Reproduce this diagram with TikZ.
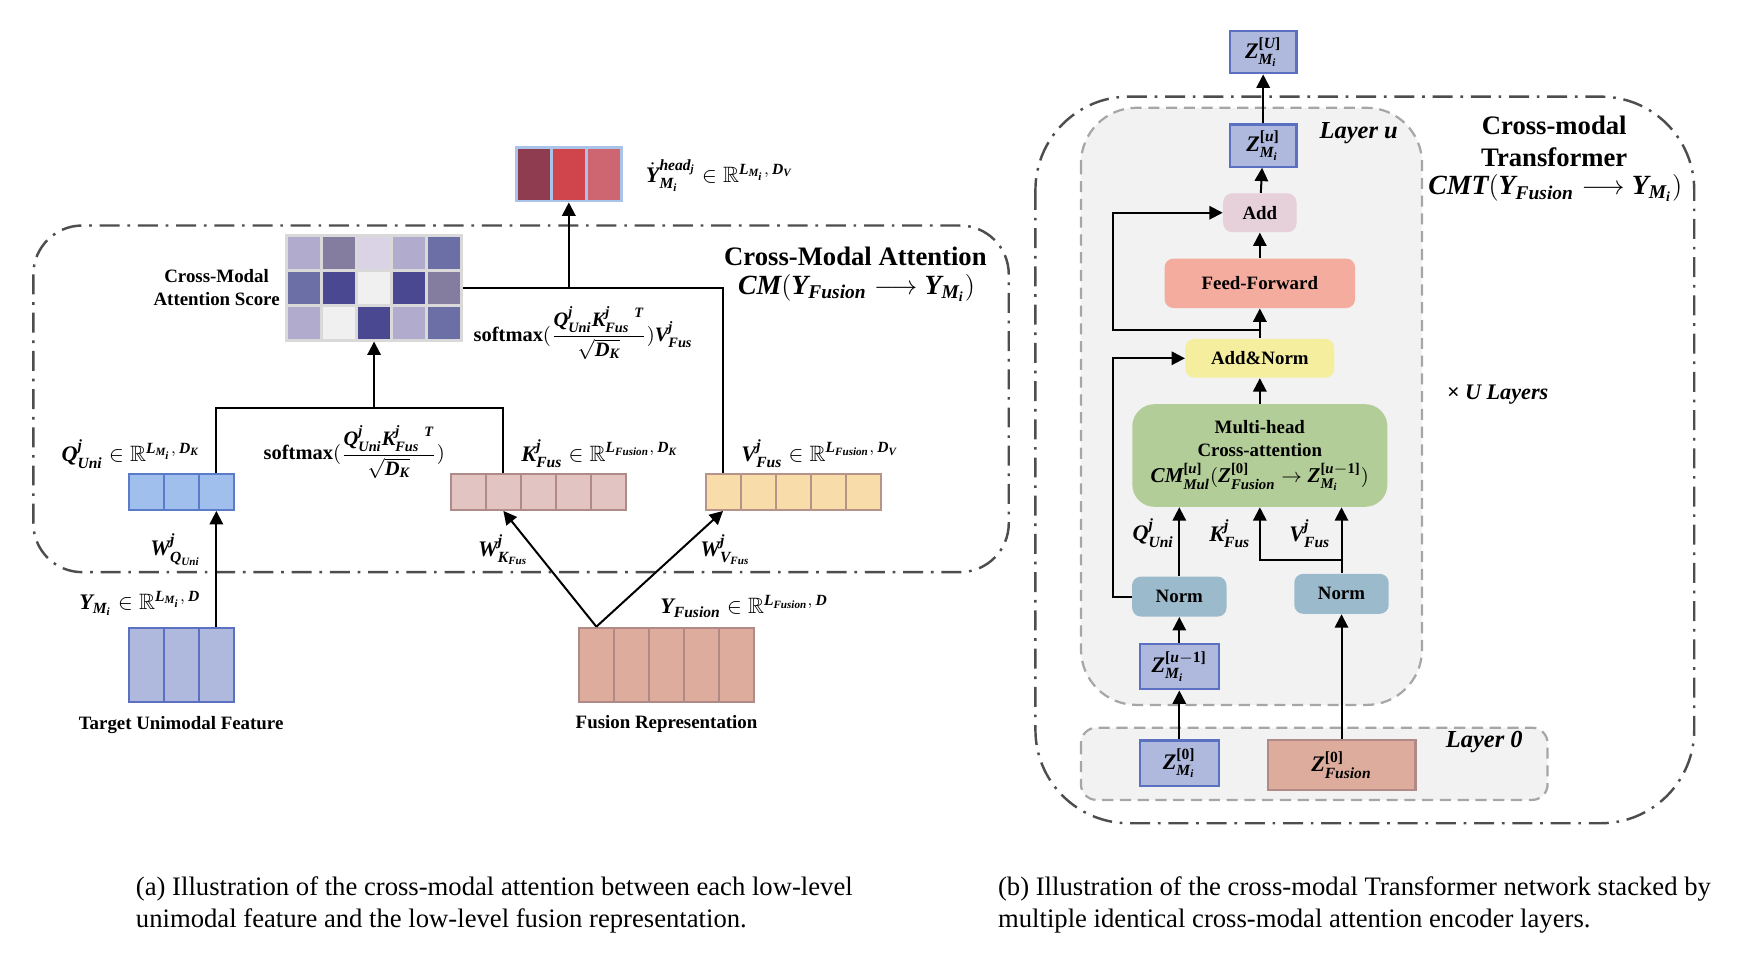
\documentclass[tikz,border=0pt]{standalone}
\usepackage{amsmath}
\usepackage{amsfonts}
\usepackage{fontspec}
\setmainfont{Liberation Serif}
\usetikzlibrary{arrows.meta,positioning}

\newcommand{\bfit}[1]{\text{\bfseries\itshape #1}}
\newcommand{\bfup}[1]{\text{\bfseries #1}}

\definecolor{ymfill}{HTML}{AEB9DD}
\definecolor{ymdraw}{HTML}{5B70C0}
\definecolor{qfill}{HTML}{A0BFEC}
\definecolor{qdraw}{HTML}{5B7CC9}
\definecolor{kfill}{HTML}{E2C4C3}
\definecolor{kdraw}{HTML}{B08A86}
\definecolor{vfill}{HTML}{F8DCA9}
\definecolor{vdraw}{HTML}{B7938A}
\definecolor{fusfill}{HTML}{DDAC9C}
\definecolor{fusdraw}{HTML}{B08A86}
\definecolor{headA}{HTML}{8F3B50}
\definecolor{headB}{HTML}{D0454C}
\definecolor{headC}{HTML}{CE6672}
\definecolor{headdraw}{HTML}{A9C4E8}
\definecolor{attA}{HTML}{B1ACCE}
\definecolor{attB}{HTML}{847DA0}
\definecolor{attC}{HTML}{D9D3E5}
\definecolor{attD}{HTML}{6B6FA6}
\definecolor{attE}{HTML}{4B4892}
\definecolor{attF}{HTML}{F0F0F0}
\definecolor{attdraw}{HTML}{D9D9D9}
\definecolor{addfill}{HTML}{E6D0DA}
\definecolor{fffill}{HTML}{F4AC9E}
\definecolor{anfill}{HTML}{F5EE9E}
\definecolor{mhafill}{HTML}{B3CD98}
\definecolor{normfill}{HTML}{9BBBCC}
\definecolor{layerfill}{HTML}{F2F2F2}
\definecolor{layerdraw}{HTML}{A6A6A6}
\definecolor{framedraw}{HTML}{4D4D4D}

\begin{document}
\begin{tikzpicture}[x=0.5pt, y=-0.5pt, node distance = 15.75pt,
    >={Triangle[length=6pt,width=6pt]},
    cell/.style={draw, line width=0.9pt, minimum width=15.75pt, minimum height=16pt, inner sep=0pt},
    tallcell/.style={cell, minimum height=33.5pt},
    headcell/.style={cell, draw=headdraw, line width=1.2pt, minimum height=24pt},
    attcell/.style={cell, draw=attdraw, line width=1.2pt, minimum height=15.75pt},
    block/.style={rounded corners=4pt, inner sep=0pt, align=center, font=\fontsize{8.5}{10.5}\selectfont\bfseries},
    zbox/.style={draw=ymdraw, fill=ymfill, line width=1pt, inner sep=0pt, font=\fontsize{10}{12}\selectfont},
    txt/.style={inner sep=0pt, align=center, font=\fontsize{8.5}{10.5}\selectfont\bfseries},
    mathlabel/.style={inner sep=0pt, anchor=west, font=\fontsize{10}{12}\selectfont\bfseries},
    dashframe/.style={draw=framedraw, line width=1.1pt, dash pattern=on 9pt off 3.5pt on 1.2pt off 3.5pt},
    layerbox/.style={draw=layerdraw, fill=layerfill, line width=1pt, dash pattern=on 5pt off 3pt},
    conn/.style={->, line width=0.9pt}]
          \useasboundingbox (0,0) rectangle (1568,872);
          \draw[dashframe, rounded corners=22pt] (30,203) rectangle (908,515);
          \draw[dashframe, rounded corners=42pt] (932,87) rectangle (1525,741);
          \draw[layerbox, rounded corners=25pt] (973,97) rectangle (1280,634.5);
          \draw[layerbox, rounded corners=7pt] (973,655) rectangle (1393,720);

          \node[headcell, fill=headA](h1) at (480.5,157) {};
          \node[headcell, fill=headB](h2) [right of = h1] {};
          \node[headcell, fill=headC](h3) [right of = h2] {};

          \node[attcell, fill=attA](a11) at (273.7,227.5) {};
          \node[attcell, fill=attB](a12) [right of = a11] {};
          \node[attcell, fill=attC](a13) [right of = a12] {};
          \node[attcell, fill=attA](a14) [right of = a13] {};
          \node[attcell, fill=attD](a15) [right of = a14] {};
          \node[attcell, fill=attD](a21) [below of = a11] {};
          \node[attcell, fill=attE](a22) [right of = a21] {};
          \node[attcell, fill=attF](a23) [right of = a22] {};
          \node[attcell, fill=attE](a24) [right of = a23] {};
          \node[attcell, fill=attB](a25) [right of = a24] {};
          \node[attcell, fill=attA](a31) [below of = a21] {};
          \node[attcell, fill=attF](a32) [right of = a31] {};
          \node[attcell, fill=attE](a33) [right of = a32] {};
          \node[attcell, fill=attA](a34) [right of = a33] {};
          \node[attcell, fill=attD](a35) [right of = a34] {};

          \node[cell, draw=qdraw, fill=qfill](q1) at (131.75,443) {};
          \node[cell, draw=qdraw, fill=qfill](q2) [right of = q1] {};
          \node[cell, draw=qdraw, fill=qfill](q3) [right of = q2] {};

          \node[cell, draw=kdraw, fill=kfill](k1) at (421.6,443) {};
          \node[cell, draw=kdraw, fill=kfill](k2) [right of = k1] {};
          \node[cell, draw=kdraw, fill=kfill](k3) [right of = k2] {};
          \node[cell, draw=kdraw, fill=kfill](k4) [right of = k3] {};
          \node[cell, draw=kdraw, fill=kfill](k5) [right of = k4] {};

          \node[cell, draw=vdraw, fill=vfill](v1) at (650.8,443) {};
          \node[cell, draw=vdraw, fill=vfill](v2) [right of = v1] {};
          \node[cell, draw=vdraw, fill=vfill](v3) [right of = v2] {};
          \node[cell, draw=vdraw, fill=vfill](v4) [right of = v3] {};
          \node[cell, draw=vdraw, fill=vfill](v5) [right of = v4] {};

          \node[tallcell, draw=ymdraw, fill=ymfill](ym1) at (131.75,598.5) {};
          \node[tallcell, draw=ymdraw, fill=ymfill](ym2) [right of = ym1] {};
          \node[tallcell, draw=ymdraw, fill=ymfill](ym3) [right of = ym2] {};

          \node[tallcell, draw=fusdraw, fill=fusfill](f1) at (536.8,598.5) {};
          \node[tallcell, draw=fusdraw, fill=fusfill](f2) [right of = f1] {};
          \node[tallcell, draw=fusdraw, fill=fusfill](f3) [right of = f2] {};
          \node[tallcell, draw=fusdraw, fill=fusfill](f4) [right of = f3] {};
          \node[tallcell, draw=fusdraw, fill=fusfill](f5) [right of = f4] {};

          \coordinate (qk) at (336.7,367);
          \coordinate (sv) at (h2 |- a25);
          \draw[line width=0.9pt] (q3.north) |- (qk) -| (k2.north);
          \draw[line width=0.9pt] (a25.east) -| (v1.north);
          \path[conn]
            (ym3) edge (q3)
            (qk) edge (a33)
            (sv) edge (h2)
            (f1.north) edge (k2.south)
            (f1.north) edge (v1.south)
            ;

          \node[mathlabel](yheadlab) at (581,158) {$\dot{\bfit{Y}}{}^{\bfit{head}_{\bfit{j}}}_{\bfit{M}_{\bfit{i}}} \in \mathbb{R}^{\bfit{L}_{\bfit{M}_{\bfit{i}}},\,\bfit{D}_{\bfit{V}}}$};
          \node[txt](attlab) at (195,259) {Cross-Modal\\Attention Score};
          \node[mathlabel, font=\fontsize{9.2}{11}\selectfont\bfseries](svlab) at (426,300) {softmax$(\dfrac{\bfit{Q}^{\bfit{j}}_{\bfit{Uni}}\bfit{K}^{\bfit{j}}_{\bfit{Fus}}{}^{\;\bfit{T}}}{\sqrt{\bfit{D}_{\bfit{K}}}})\bfit{V}^{\bfit{j}}_{\bfit{Fus}}$};
          \node[font=\fontsize{12}{14}\selectfont\bfseries, inner sep=0pt](cmatitle) at (770,231) {Cross-Modal Attention};
          \node[font=\fontsize{12.5}{14}\selectfont, inner sep=0pt](cmaform) at (771,259) {$\bfit{CM}(\bfit{Y}_{\bfit{Fusion}}\longrightarrow\bfit{Y}_{\bfit{M}_{\bfit{i}}})$};
          \node[mathlabel](qlab) at (55,409) {$\bfit{Q}^{\bfit{j}}_{\bfit{Uni}} \in \mathbb{R}^{\bfit{L}_{\bfit{M}_{\bfit{i}}},\,\bfit{D}_{\bfit{K}}}$};
          \node[mathlabel, font=\fontsize{9.2}{11}\selectfont\bfseries](qklab) at (237,407) {softmax$(\dfrac{\bfit{Q}^{\bfit{j}}_{\bfit{Uni}}\bfit{K}^{\bfit{j}}_{\bfit{Fus}}{}^{\;\bfit{T}}}{\sqrt{\bfit{D}_{\bfit{K}}}})$};
          \node[mathlabel](klab) at (469,408) {$\bfit{K}^{\bfit{j}}_{\bfit{Fus}} \in \mathbb{R}^{\bfit{L}_{\bfit{Fusion}},\,\bfit{D}_{\bfit{K}}}$};
          \node[mathlabel](vlab) at (667,408) {$\bfit{V}^{\bfit{j}}_{\bfit{Fus}} \in \mathbb{R}^{\bfit{L}_{\bfit{Fusion}},\,\bfit{D}_{\bfit{V}}}$};
          \node[mathlabel](wqlab) at (135,495) {$\bfit{W}^{\bfit{j}}_{\bfit{Q}_{\bfit{Uni}}}$};
          \node[mathlabel](wklab) at (430,495) {$\bfit{W}^{\bfit{j}}_{\bfit{K}_{\bfit{Fus}}}$};
          \node[mathlabel](wvlab) at (630,495) {$\bfit{W}^{\bfit{j}}_{\bfit{V}_{\bfit{Fus}}}$};
          \node[mathlabel](ymlab) at (71,543) {$\bfit{Y}_{\bfit{M}_{\bfit{i}}} \in \mathbb{R}^{\bfit{L}_{\bfit{M}_{\bfit{i}}},\,\bfit{D}}$};
          \node[mathlabel](fuslab) at (594,546) {$\bfit{Y}_{\bfit{Fusion}} \in \mathbb{R}^{\bfit{L}_{\bfit{Fusion}},\,\bfit{D}}$};
          \node[txt](tuflab) at (163,653) {Target Unimodal Feature};
          \node[txt](frlab) at (600,652) {Fusion Representation};

          \node[zbox, minimum width=30pt, minimum height=19pt](zU) at (1137,47) {$\bfit{Z}^{\bfup{[}\bfit{U}\bfup{]}}_{\bfit{M}_{\bfit{i}}}$};
          \node[zbox, minimum width=30pt, minimum height=19pt](zu) at (1137,131) {$\bfit{Z}^{\bfup{[}\bfit{u}\bfup{]}}_{\bfit{M}_{\bfit{i}}}$};
          \node[block, fill=addfill, minimum width=33pt, minimum height=17.5pt](add) at (1134,191.5) {Add};
          \node[block, fill=fffill, minimum width=85.75pt, minimum height=22.25pt](ff) at (1134,255) {Feed-Forward};
          \node[block, fill=anfill, minimum width=67pt, minimum height=17.5pt](addnorm) at (1134,322.5) {Add\&Norm};
          \node[block, fill=mhafill, rounded corners=10pt, minimum width=114.8pt, minimum height=46.2pt](mha) at (1134,410) {Multi-head\\Cross-attention\\[1pt]{\fontsize{9.5}{11}\selectfont$\bfit{CM}^{\bfup{[}\bfit{u}\bfup{]}}_{\bfit{Mul}}(\bfit{Z}^{\bfup{[0]}}_{\bfit{Fusion}}\rightarrow\bfit{Z}^{\bfup{[}\bfit{u}-\bfup{1]}}_{\bfit{M}_{\bfit{i}}})$}};
          \node[block, fill=normfill, minimum width=42.5pt, minimum height=18pt](norml) at (1061.5,537) {Norm};
          \node[block, fill=normfill, minimum width=42.5pt, minimum height=18pt](normr) at (1207.5,534.5) {Norm};
          \node[zbox, minimum width=35.5pt, minimum height=20.5pt](zprev) at (1061.5,600) {$\bfit{Z}^{\bfup{[}\bfit{u}-\bfup{1]}}_{\bfit{M}_{\bfit{i}}}$};
          \node[zbox, minimum width=35.5pt, minimum height=20.5pt](zzero) at (1061.5,687) {$\bfit{Z}^{\bfup{[0]}}_{\bfit{M}_{\bfit{i}}}$};
          \node[zbox, draw=fusdraw, fill=fusfill, minimum width=66.5pt, minimum height=22.5pt](zfus) at (1207.5,688.5) {$\bfit{Z}^{\bfup{[0]}}_{\bfit{Fusion}}$};

          \coordinate (skipa) at (1134,297);
          \coordinate (skipb) at (1002,297);
          \coordinate (kvsplit) at (1207.5,504);
          \draw[conn] (skipa) -- (skipb) |- (add.west);
          \draw[conn] (norml.west) -- (norml.west -| skipb) |- (addnorm.west);
          \draw[conn] (kvsplit) -| (mha.south);
          \path[conn]
            (zu) edge (zU)
            (add) edge (zu)
            (ff) edge (add)
            (addnorm) edge (ff)
            (mha) edge (addnorm)
            (norml.north) edge (norml.north |- mha.south)
            (normr.north) edge (normr.north |- mha.south)
            (zprev) edge (norml)
            (zzero) edge (zprev)
            (zfus) edge (normr)
            ;

          \node[font=\fontsize{10}{12}\selectfont, inner sep=0pt](qjlab) at (1038,480) {$\bfit{Q}^{\bfit{j}}_{\bfit{Uni}}$};
          \node[font=\fontsize{10}{12}\selectfont, inner sep=0pt](kjlab) at (1107,480) {$\bfit{K}^{\bfit{j}}_{\bfit{Fus}}$};
          \node[font=\fontsize{10}{12}\selectfont, inner sep=0pt](vjlab) at (1179,480) {$\bfit{V}^{\bfit{j}}_{\bfit{Fus}}$};
          \node[font=\fontsize{11}{13}\selectfont\bfseries\itshape, inner sep=0pt](layerulab) at (1223,120) {Layer u};
          \node[font=\fontsize{11}{13}\selectfont\bfseries\itshape, inner sep=0pt](layer0lab) at (1336,668) {Layer 0};
          \node[font=\fontsize{10}{12}\selectfont\bfseries\itshape, inner sep=0pt](ulayerslab) at (1348,355) {× U Layers};
          \node[font=\fontsize{12}{14.25}\selectfont\bfseries, align=center, inner sep=0pt](cmttitle) at (1399,127) {Cross-modal\\Transformer};
          \node[font=\fontsize{12.5}{14}\selectfont, inner sep=0pt](cmtform) at (1400,169.5) {$\bfit{CMT}(\bfit{Y}_{\bfit{Fusion}}\longrightarrow\bfit{Y}_{\bfit{M}_{\bfit{i}}})$};

          \node[font=\fontsize{12}{14.5}\selectfont, align=left, anchor=west, inner sep=0pt](capa) at (122,814.5) {(a) Illustration of the cross-modal attention between each low-level\\unimodal feature and the low-level fusion representation.};
          \node[font=\fontsize{12}{14.5}\selectfont, align=left, anchor=west, inner sep=0pt](capb) at (898,814.5) {(b) Illustration of the cross-modal Transformer network stacked by\\multiple identical cross-modal attention encoder layers.};
        \end{tikzpicture}
\end{document}
